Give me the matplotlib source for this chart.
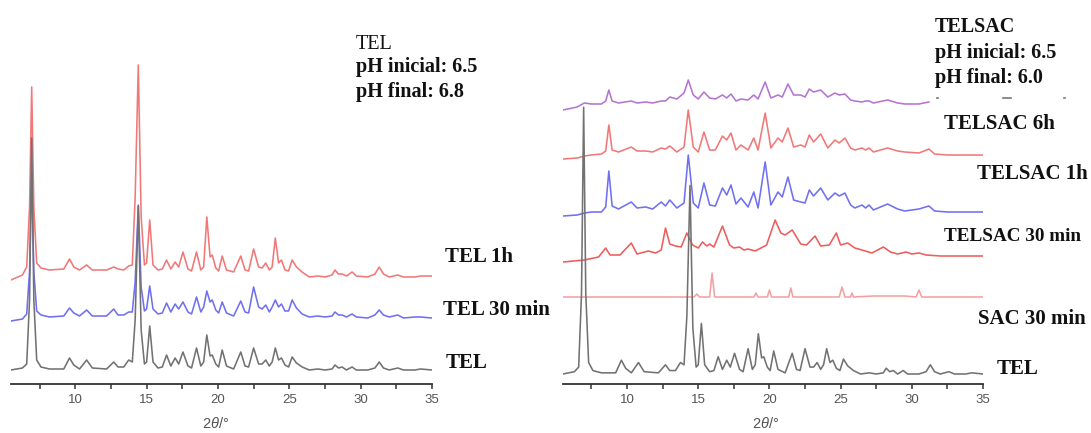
import matplotlib
matplotlib.use("Agg")
import matplotlib.pyplot as plt
from matplotlib.lines import Line2D
import numpy as np

plt.rcParams['font.family'] = ['Liberation Sans', 'DejaVu Sans']
plt.rcParams['mathtext.fontset'] = 'custom'
plt.rcParams['mathtext.it'] = 'Liberation Sans:italic'
plt.rcParams['mathtext.rm'] = 'Liberation Sans'

# ---------------- data (2theta in degrees, intensity in a.u.) ----------------
# TEL family (shared vertex positions)
TEL_X = [5.5, 6.3, 6.6, 6.8, 6.95, 7.1, 7.3, 7.6, 8.2, 9.2, 9.6, 9.9, 10.3, 10.8, 11.2,
         12.2, 12.7, 13.0, 13.4, 13.75, 14.0, 14.2, 14.42, 14.62, 14.85, 15.0, 15.22,
         15.45, 15.8, 16.1, 16.4, 16.7, 17.0, 17.25, 17.55, 17.9, 18.15, 18.5, 18.8,
         19.0, 19.22, 19.45, 19.6, 19.85, 20.05, 20.3, 20.6, 21.1, 21.6, 21.9, 22.15,
         22.5, 22.85, 23.1, 23.35, 23.6, 23.8, 24.02, 24.25, 24.45, 24.7, 24.95, 25.2,
         25.5, 25.9, 26.4, 27.0, 27.5, 28.0, 28.2, 28.45, 28.7, 29.0, 29.4, 29.7, 30.5,
         31.0, 31.3, 31.6, 32.0, 32.6, 33.0, 33.8, 34.2, 35.0]
TEL_Y = [0, 2, 6, 70, 232, 70, 10, 3, 1, 1, 12, 5, 1, 10, 2,
         1, 8, 3, 3, 10, 8, 50, 164, 40, 6, 8, 44,
         8, 2, 3, 15, 4, 12, 6, 18, 4, 2, 22, 4,
         8, 35, 14, 15, 6, 3, 20, 4, 1, 18, 4, 3,
         22, 6, 6, 10, 4, 8, 22, 10, 12, 5, 3, 13,
         7, 3, 0, 1, 0, 1, 5, 2, 3, 0, 3, 0, 0,
         2, 8, 2, 0, 2, 0, 0, 1, 0]
TEL_30MIN_Y = [-4, -2, 3, 45, 141, 45, 6, 2, 0, 1, 9, 4, 1, 7, 1,
               1, 8, 2, 2, 5, 5, 35, 112, 30, 6, 8, 31,
               8, 3, 4, 14, 5, 13, 8, 15, 5, 3, 20, 5,
               10, 26, 15, 17, 7, 4, 15, 4, 1, 16, 5, 4,
               30, 10, 8, 12, 5, 10, 17, 10, 13, 6, 6, 17,
               9, 3, 0, 1, 0, 1, 5, 2, 2, 0, 3, 0, -1,
               2, 7, 2, 0, 2, -1, 0, 0, -1]
TEL_1H_Y = [-3, 2, 10, 70, 190, 70, 14, 9, 7, 8, 18, 10, 7, 12, 7,
            7, 10, 8, 7, 11, 12, 80, 212, 60, 12, 14, 57,
            12, 7, 8, 17, 8, 15, 10, 25, 8, 6, 25, 7,
            10, 60, 20, 22, 9, 6, 21, 7, 5, 21, 7, 6,
            28, 10, 9, 14, 7, 10, 39, 14, 17, 7, 6, 17,
            10, 5, 0, 1, 0, 2, 7, 3, 3, 1, 5, 1, 0,
            3, 10, 3, 0, 2, 0, 0, 1, 1]

# TELSAC family (shared vertex positions)
TELSAC_X = [5.5, 6.5, 7.0, 7.5, 8.2, 8.5, 8.72, 8.95, 9.4, 10.3, 10.7, 11.3, 11.8, 12.4,
            12.7, 13.0, 13.5, 14.0, 14.3, 14.65, 15.0, 15.4, 15.8, 16.2, 16.7, 17.0,
            17.3, 17.65, 18.0, 18.5, 18.9, 19.2, 19.7, 20.1, 20.6, 20.9, 21.3, 21.7,
            22.2, 22.5, 22.8, 23.1, 23.6, 24.1, 24.6, 24.9, 25.3, 25.7, 26.0, 26.5,
            26.75, 27.0, 27.3, 28.3, 29.0, 29.5, 30.5, 31.2, 31.6, 32.5, 35.0]
TELSAC_1H_Y = [-4, -3, -1, 0, 0, 5, 41, 6, 3, 10, 4, 5, 3, 10,
               6, 12, 4, 9, 57, 9, 4, 29, 7, 6, 24, 17,
               27, 8, 14, 5, 20, 4, 50, 7, 20, 15, 35, 12,
               10, 9, 22, 16, 24, 12, 19, 16, 19, 7, 4, 7,
               4, 7, 2, 8, 3, 1, 3, 6, 1, 0, 0]
TELSAC_6H_Y = [-4, -3, -1, 0, 1, 4, 30, 5, 3, 8, 4, 4, 3, 7,
               6, 9, 3, 8, 45, 8, 3, 23, 5, 5, 19, 15,
               22, 5, 10, 5, 17, 5, 42, 7, 17, 13, 27, 8,
               10, 8, 20, 13, 21, 7, 15, 12, 17, 7, 5, 7,
               5, 7, 3, 7, 4, 3, 2, 6, 1, 0, 0]
TOP_Y = [-6, -3, 1, 0, 0, 3, 14, 3, 1, 3, 1, 2, 1, 3,
         3, 7, 5, 11, 24, 9, 5, 12, 6, 5, 9, 6,
         10, 3, 5, 4, 9, 5, 22, 6, 9, 7, 20, 9,
         9, 7, 15, 12, 14, 7, 11, 9, 10, 4, 3, 2,
         3, 3, 1, 4, 1, 0, 0, 2]

TELSAC_30MIN_X = [5.5, 7.0, 8.0, 8.5, 8.8, 9.5, 10.3, 10.7, 11.5, 12.0, 12.4, 12.7, 13.0,
                  13.4, 13.8, 14.2, 14.6, 15.0, 15.3, 15.6, 15.8, 16.1, 16.7, 17.2, 17.5,
                  17.9, 18.2, 18.5, 19.0, 19.8, 20.4, 20.8, 21.1, 21.6, 22.2, 22.6, 23.2,
                  23.6, 24.2, 24.7, 25.0, 25.5, 26.0, 26.5, 27.2, 28.0, 28.5, 29.0, 29.6,
                  30.0, 30.5, 31.0, 32.0, 33.0, 34.0, 35.0]
TELSAC_30MIN_Y = [-4, -2, 1, 10, 3, 3, 15, 4, 7, 5, 8, 30, 14,
                  12, 11, 25, 13, 10, 16, 12, 14, 11, 32, 13, 10,
                  11, 8, 9, 7, 13, 38, 25, 23, 28, 14, 13, 22,
                  12, 13, 25, 13, 15, 10, 8, 5, 11, 6, 4, 6,
                  4, 5, 3, 2, 2, 2, 2]

SAC_X = [5.5, 14.7, 14.9, 15.1, 15.8, 15.97, 16.15, 18.9, 19.05, 19.2, 19.85, 20.0, 20.15,
         21.35, 21.5, 21.65, 24.9, 25.1, 25.3, 25.7, 25.8, 25.9, 27.3, 29.5, 30.3, 30.5,
         30.7, 35.0]
SAC_Y = [0, 0, 3, 0, 0, 24, 0, 0, 4, 0, 0, 7, 0,
         0, 9, 0, 0, 10, 0, 0, 4, 0, 1, 1, 0, 7,
         0, 0]

X_TICKS = [10, 15, 20, 25, 30, 35]
X_MINOR = [7.5, 12.5, 17.5, 22.5, 27.5, 32.5]

# ---------------- styling ----------------
W, H = 1091, 433
fig = plt.figure(figsize=(W / 100, H / 100), dpi=100)

RED = '#f27878'
RED2 = '#ef5c5c'
BLUE = '#7070f2'
GRAY = '#727272'
PURPLE = '#b574d2'
PINK = '#f5a0a0'
LW = 1.15


def make_axes(left_px, right_px):
    ax = fig.add_axes([left_px / W, (H - 384) / H, (right_px - left_px) / W, 384 / H])
    ax.set_xlim(5.5, 35)
    ax.set_ylim(0, 384)
    for s in ('left', 'right', 'top'):
        ax.spines[s].set_visible(False)
    ax.spines['bottom'].set_color('#333333')
    ax.spines['bottom'].set_linewidth(1.3)
    ax.set_yticks([])
    ax.set_xticks(X_TICKS)
    ax.set_xticks(X_MINOR, minor=True)
    ax.tick_params(axis='x', which='both', direction='out', length=3.5, width=1.1,
                   color='#333333', labelsize=9.5, labelcolor='#555555', pad=4)
    ax.set_xlabel(r'2$\mathit{\theta}$/°', fontsize=10.5, color='#555555')
    ax.patch.set_alpha(0)
    return ax


serif = ['Liberation Serif', 'DejaVu Serif']

# ---------------- left panel ----------------
axL = make_axes(11, 432)
axL.plot(TEL_X, np.array(TEL_1H_Y) + 107, color=RED, lw=LW, solid_joinstyle='round')
axL.plot(TEL_X, np.array(TEL_30MIN_Y) + 67, color=BLUE, lw=LW, solid_joinstyle='round')
axL.plot(TEL_X, np.array(TEL_Y) + 14, color=GRAY, lw=LW, solid_joinstyle='round')
axL.xaxis.set_label_coords(0.487, -0.083)

# ---------------- right panel ----------------
axR = make_axes(563, 983)
axR.plot(TELSAC_X[:len(TOP_Y)], np.array(TOP_Y) + 280, color=PURPLE, lw=LW, solid_joinstyle='round')
axR.plot(TELSAC_X, np.array(TELSAC_6H_Y) + 229, color=RED, lw=LW, solid_joinstyle='round')
axR.plot(TELSAC_X, np.array(TELSAC_1H_Y) + 172, color=BLUE, lw=LW, solid_joinstyle='round')
axR.plot(TELSAC_30MIN_X, np.array(TELSAC_30MIN_Y) + 126, color=RED2, lw=LW, solid_joinstyle='round')
axR.plot(SAC_X, np.array(SAC_Y) + 87, color=PINK, lw=LW, solid_joinstyle='round')
axR.plot(TEL_X, np.array(TEL_Y) * 1.15 + 10, color=GRAY, lw=LW, solid_joinstyle='round')
axR.xaxis.set_label_coords(0.483, -0.083)


def ftext(x, y, s, weight='bold', size=15):
    fig.text(x / W, 1 - y / H, s, ha='left', va='baseline', fontsize=size,
             fontweight=weight, family=serif, color='#111111')


# annotations left
ftext(356, 49, 'TEL', weight='normal', size=14.5)
ftext(356, 72, 'pH inicial: 6.5', size=14.5)
ftext(356, 97, 'pH final: 6.8', size=14.5)
ftext(445, 262, 'TEL 1h')
ftext(443, 315, 'TEL 30 min')
ftext(446, 368, 'TEL')

# annotations right
ftext(935, 32, 'TELSAC', size=14.5)
ftext(935, 58, 'pH inicial: 6.5', size=14.5)
ftext(935, 83, 'pH final: 6.0', size=14.5)
ftext(944, 129, 'TELSAC 6h')
ftext(977, 179, 'TELSAC 1h')
ftext(944, 241, 'TELSAC 30 min', size=13.8)
ftext(978, 324, 'SAC 30 min')
ftext(997, 374, 'TEL')

# small remnant marks of a hidden frame
for x0, x1 in [(937, 937.8), (1003, 1011), (1064, 1064.8)]:
    fig.add_artist(Line2D([x0 / W, x1 / W], [1 - 98 / H, 1 - 98 / H],
                          color='#777777', lw=1.2, transform=fig.transFigure))

fig.savefig('out.png', dpi=100)
